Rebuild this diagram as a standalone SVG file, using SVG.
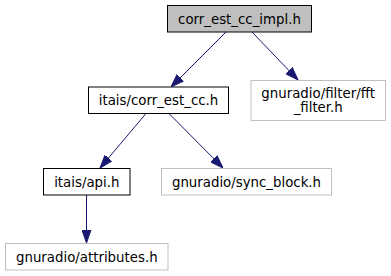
<svg xmlns="http://www.w3.org/2000/svg" width="391" height="276" viewBox="0 0 391 276">
  <style>
    .box { fill: #ffffff; stroke: #000000; stroke-width: 1; }
    .root { fill: #bfbfbf; stroke: #000000; stroke-width: 1; }
    .ext { fill: #ffffff; stroke: #bfbfbf; stroke-width: 1; }
    .lbl { font-family: "DejaVu Sans", sans-serif; font-size: 13.33px; fill: #000000; text-anchor: middle; }
    .edge { fill: none; stroke: #191970; stroke-width: 1; }
  </style>
  <defs>
    <marker id="arrow" viewBox="0 0 13 10" refX="13" refY="5" markerWidth="13" markerHeight="10" markerUnits="userSpaceOnUse" orient="auto">
      <path d="M0,0.5 L13,5 L0,9.5 Z" fill="#191970" stroke="#191970" stroke-width="1"/>
    </marker>
  </defs>
  <rect width="391" height="276" fill="#ffffff"/>

  <!-- include dependencies -->
  <g id="edges">
    <path class="edge" d="M226,32 L171,87" marker-end="url(#arrow)"/>
    <path class="edge" d="M252,32 L298,80" marker-end="url(#arrow)"/>
    <path class="edge" d="M146,113.5 L100,168" marker-end="url(#arrow)"/>
    <path class="edge" d="M169,113.5 L223,168" marker-end="url(#arrow)"/>
    <path class="edge" d="M86.5,195 L86.5,243" marker-end="url(#arrow)"/>
  </g>

  <g id="node-impl">
    <rect class="root" x="167.5" y="5.5" width="144" height="26.5"/>
    <text class="lbl" x="239.5" y="23.5">corr_est_cc_impl.h</text>
  </g>

  <g id="node-corr-est-cc">
    <rect class="box" x="88.5" y="87" width="140" height="26.5"/>
    <text class="lbl" x="158.5" y="105">itais/corr_est_cc.h</text>
  </g>

  <g id="node-fft-filter">
    <rect class="ext" x="251" y="80.5" width="134.5" height="40"/>
    <text class="lbl" x="318.2" y="97.5">gnuradio/filter/fft</text>
    <text class="lbl" x="318.2" y="112.3">_filter.h</text>
  </g>

  <g id="node-api">
    <rect class="box" x="43.5" y="168.5" width="86.5" height="26.5"/>
    <text class="lbl" x="86.8" y="186.5">itais/api.h</text>
  </g>

  <g id="node-sync-block">
    <rect class="ext" x="161.5" y="168.5" width="170" height="26.5"/>
    <text class="lbl" x="246.5" y="186.5">gnuradio/sync_block.h</text>
  </g>

  <g id="node-attributes">
    <rect class="ext" x="5.5" y="243.5" width="162.5" height="26.5"/>
    <text class="lbl" x="86.8" y="261.5">gnuradio/attributes.h</text>
  </g>
</svg>
